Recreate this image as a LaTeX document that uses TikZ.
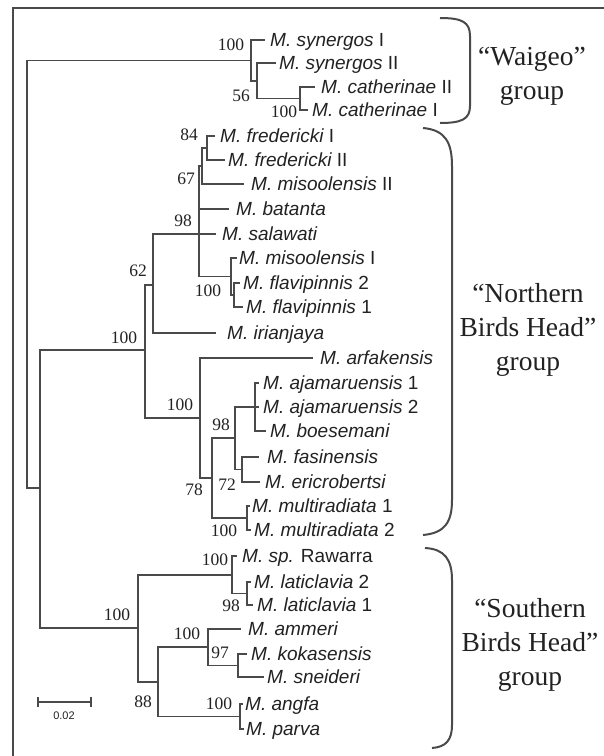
\documentclass[tikz,border=0pt]{standalone}
\usepackage{fontspec}
\setmainfont{Liberation Serif}
\newfontfamily\taxfont{Liberation Sans}
\definecolor{ln}{HTML}{4A4A4A}
\definecolor{tx}{HTML}{222222}
\newcommand{\msp}[2]{{\itshape M. #1} #2}
\newcommand{\tip}[5]{\coordinate (#1) at (#2,#3); \node[taxon] (#1-l) at (#4,#3) {#5};}
\begin{document}
\begin{tikzpicture}[x=1pt,y=-1pt,
  branch/.style={draw=ln,line width=1.8pt,line cap=rect},
  taxon/.style={anchor=base west,inner sep=0pt,yshift=-6.5pt,text=tx,font=\taxfont\fontsize{19}{21}\selectfont},
  boot/.style={inner sep=0pt,text=tx,font=\fontsize{17.5}{19}\selectfont},
  grp/.style={align=center,inner sep=0pt,text=tx,font=\fontsize{27.5}{34}\selectfont},
  brk/.style={draw=ln,line width=2pt}]
\useasboundingbox (0,0) rectangle (604,756);
\fill[white] (0,0) rectangle (604,756);
% frame
\coordinate (fTL) at (13,8);
\coordinate (fTR) at (604,8);
\coordinate (fBL) at (13,756);
\draw[draw=ln,line width=1.6pt] (fBL) -- (fTL) -- (fTR);

% ---------- tips ----------
\tip{syn1}{264}{40}{270}{\msp{synergos}{I}}
\tip{syn2}{275}{63}{279}{\msp{synergos}{II}}
\tip{cat2}{314}{87}{321}{\msp{catherinae}{II}}
\tip{cat1}{307}{110}{312}{\msp{catherinae}{I}}
\tip{fre1}{214}{136}{220}{\msp{fredericki}{I}}
\tip{fre2}{224}{160}{228}{\msp{fredericki}{II}}
\tip{mis2}{243}{184}{251}{\msp{misoolensis}{II}}
\tip{bat}{228}{209}{236}{\msp{batanta}{}}
\tip{sal}{215}{234}{222}{\msp{salawati}{}}
\tip{mis1}{236}{258}{239}{\msp{misoolensis}{I}}
\tip{fla2}{239}{283}{243}{\msp{flavipinnis}{2}}
\tip{fla1}{242}{307}{246}{\msp{flavipinnis}{1}}
\tip{iri}{215}{333}{227}{\msp{irianjaya}{}}
\tip{arf}{312}{358}{320}{\msp{arfakensis}{}}
\tip{aja1}{258}{383}{263}{\msp{ajamaruensis}{1}}
\tip{aja2}{258}{407}{263}{\msp{ajamaruensis}{2}}
\tip{boe}{265}{431}{270}{\msp{boesemani}{}}
\tip{fas}{258}{457}{267}{\msp{fasinensis}{}}
\tip{eri}{259}{482}{265}{\msp{ericrobertsi}{}}
\tip{mul1}{249}{506}{252}{\msp{multiradiata}{1}}
\tip{mul2}{250}{530}{254}{\msp{multiradiata}{2}}
\tip{raw}{236}{556}{242}{{\itshape M. sp.} Rawarra}
\tip{lat2}{250}{582}{254}{\msp{laticlavia}{2}}
\tip{lat1}{252}{605}{257}{\msp{laticlavia}{1}}
\tip{amm}{240}{629}{248}{\msp{ammeri}{}}
\tip{kok}{246}{654}{251}{\msp{kokasensis}{}}
\tip{sne}{263}{677}{267}{\msp{sneideri}{}}
\tip{ang}{242}{704}{245}{\msp{angfa}{}}
\tip{par}{243}{729}{246}{\msp{parva}{}}

% ---------- internal nodes ----------
\coordinate (W3) at (300,98.5);
\coordinate (W2) at (257,80.75);
\coordinate (W1) at (251,60.4);
\coordinate (N84) at (207,148);
\coordinate (N67) at (202,166);
\coordinate (Nfl) at (234,295);
\coordinate (Nfm) at (231,276.5);
\coordinate (N98) at (199,234);
\coordinate (N62) at (153,285);
\coordinate (Naja) at (255,407);
\coordinate (N72) at (242,469.5);
\coordinate (N98b) at (235,438);
\coordinate (Nmul) at (247,518);
\coordinate (N78) at (212,478);
\coordinate (Narf) at (200,418);
\coordinate (Nnorth) at (145,350);
\coordinate (Nlat) at (247,593.5);
\coordinate (Nraw) at (232,574.75);
\coordinate (N97) at (238,665.5);
\coordinate (N100a) at (208,647);
\coordinate (Nang) at (240,716.5);
\coordinate (N88) at (158,681.75);
\coordinate (Nsouth) at (138,628);
\coordinate (NSN) at (40,488);
\coordinate (root) at (27,274);

% ---------- branches ----------
\foreach \p/\c in {root/W1,root/NSN,
  W1/syn1,W1/W2,W2/syn2,W2/W3,W3/cat2,W3/cat1,
  NSN/Nnorth,NSN/Nsouth,
  Nnorth/N62,Nnorth/Narf,
  N62/N98,N62/iri,
  N98/N67,N98/bat,N98/sal,N98/Nfm,
  N67/N84,N67/mis2,N84/fre1,N84/fre2,
  Nfm/mis1,Nfm/Nfl,Nfl/fla2,Nfl/fla1,
  Narf/arf,Narf/N78,N78/N98b,N78/Nmul,
  N98b/Naja,N98b/N72,Naja/aja1,Naja/aja2,Naja/boe,
  N72/fas,N72/eri,Nmul/mul1,Nmul/mul2,
  Nsouth/Nraw,Nsouth/N88,Nraw/raw,Nraw/Nlat,Nlat/lat2,Nlat/lat1,
  N88/N100a,N88/Nang,N100a/amm,N100a/N97,N97/kok,N97/sne,
  Nang/ang,Nang/par}
  \draw[branch] (\p) |- (\c);

% ---------- bootstrap values ----------
\node[boot] (b1) at (231,45) {100};
\node[boot] (b2) at (241,96) {56};
\node[boot] (b3) at (284,112) {100};
\node[boot] (b4) at (189,135) {84};
\node[boot] (b5) at (186,179) {67};
\node[boot] (b6) at (183,221) {98};
\node[boot] (b7) at (208,291) {100};
\node[boot] (b8) at (138,271) {62};
\node[boot] (b9) at (124,338) {100};
\node[boot] (b10) at (180,405) {100};
\node[boot] (b11) at (221,425) {98};
\node[boot] (b12) at (227,485) {72};
\node[boot] (b13) at (194,490) {78};
\node[boot] (b14) at (224,531) {100};
\node[boot] (b15) at (215,560) {100};
\node[boot] (b16) at (231,606) {98};
\node[boot] (b17) at (117,615) {100};
\node[boot] (b18) at (187,634) {100};
\node[boot] (b19) at (220,653) {97};
\node[boot] (b20) at (143,702) {88};
\node[boot] (b21) at (219,704) {100};

% ---------- scale bar ----------
\coordinate (sbL) at (38,702);
\coordinate (sbR) at (91,702);
\draw[draw=ln,line width=1.5pt] (sbL) -- (sbR);
\draw[draw=ln,line width=1.3pt] ([yshift=5pt]sbL) -- ([yshift=-5pt]sbL);
\draw[draw=ln,line width=1.3pt] ([yshift=5pt]sbR) -- ([yshift=-5pt]sbR);
\node[inner sep=0pt,text=tx,font=\taxfont\fontsize{11}{12}\selectfont] (sblab) at (64,716) {0.02};

% ---------- brackets ----------
\draw[brk] (440,18) .. controls (462,18) and (470,22) .. (470,36) -- (470,106) .. controls (470,119) and (462,123) .. (440,123);
\draw[brk] (423,128) .. controls (445,130) and (452,142) .. (452,166) -- (452,500) .. controls (452,522) and (445,533) .. (423,535);
\draw[brk] (425,548) .. controls (445,549) and (452,560) .. (452,580) -- (452,725) .. controls (452,740) and (446,747) .. (432,748);

% ---------- group labels ----------
\node[grp] (gW) at (532,76) {``Waigeo''\\group};
\node[grp] (gN) at (528,330) {``Northern\\Birds Head''\\group};
\node[grp] (gS) at (530,645) {``Southern\\Birds Head''\\group};
\end{tikzpicture}
\end{document}
